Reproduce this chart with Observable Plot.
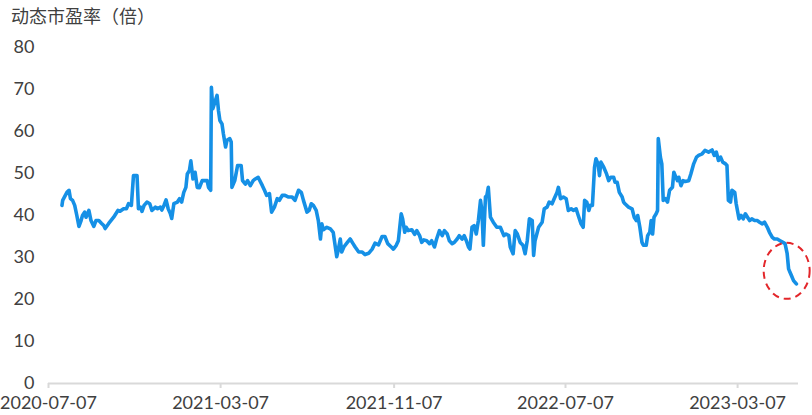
<!DOCTYPE html>
<html>
<head>
<meta charset="utf-8">
<script src="https://cdn.jsdelivr.net/npm/d3@7"></script>
<script src="https://cdn.jsdelivr.net/npm/@observablehq/plot@0.6"></script>
<style>
  html, body { margin: 0; padding: 0; background: #ffffff; }
  #wrap { width: 812px; height: 415px; position: relative; overflow: hidden; }
  #title { height: 30px; line-height: 30px; padding-left: 11px; font-family: "Noto Sans CJK SC", sans-serif; font-size: 18px; color: #404040; }
</style>
</head>
<body>
<div id="wrap">
  <div id="title">动态市盈率（倍）</div>
  <div id="chart"></div>
</div>
<script>
const titleText = "动态市盈率（倍）";
const xTickLabels = ["2020-07-07", "2021-03-07", "2021-11-07", "2022-07-07", "2023-03-07"];
const yTickValues = [0, 10, 20, 30, 40, 50, 60, 70, 80];
const xDomain = ["2020-07-07", "2023-06-01"];

const dates = [
  "2020-07-26","2020-07-27","2020-08-02","2020-08-05","2020-08-07","2020-08-10","2020-08-13","2020-08-16","2020-08-19","2020-08-22",
  "2020-08-24","2020-08-27","2020-08-29","2020-09-02","2020-09-05","2020-09-09","2020-09-12","2020-09-16","2020-09-20","2020-09-23",
  "2020-09-25","2020-09-30","2020-10-07","2020-10-13","2020-10-16","2020-10-21","2020-10-25","2020-10-28","2020-11-01","2020-11-04",
  "2020-11-09","2020-11-11","2020-11-14","2020-11-16","2020-11-19","2020-11-23","2020-11-27","2020-11-30","2020-12-05","2020-12-08",
  "2020-12-12","2020-12-14","2020-12-17","2020-12-20","2020-12-23","2020-12-26","2020-12-28","2020-12-31","2021-01-05","2021-01-08",
  "2021-01-11","2021-01-14","2021-01-17","2021-01-19","2021-01-22","2021-01-24","2021-01-27","2021-01-30","2021-02-02","2021-02-05",
  "2021-02-09","2021-02-16","2021-02-18","2021-02-21","2021-02-22","2021-02-24","2021-02-27","2021-03-02","2021-03-04","2021-03-06",
  "2021-03-09","2021-03-11","2021-03-14","2021-03-16","2021-03-20","2021-03-22","2021-03-23","2021-03-27","2021-03-31","2021-04-05",
  "2021-04-07","2021-04-11","2021-04-14","2021-04-18","2021-04-22","2021-04-25","2021-04-29","2021-05-05","2021-05-08","2021-05-11",
  "2021-05-15","2021-05-18","2021-05-22","2021-05-26","2021-05-29","2021-06-02","2021-06-06","2021-06-11","2021-06-16","2021-06-20",
  "2021-06-25","2021-06-29","2021-07-02","2021-07-07","2021-07-10","2021-07-13","2021-07-16","2021-07-20","2021-07-23","2021-07-26",
  "2021-07-28","2021-07-30","2021-08-04","2021-08-09","2021-08-13","2021-08-16","2021-08-18","2021-08-20","2021-08-23","2021-08-25",
  "2021-08-28","2021-09-02","2021-09-06","2021-09-10","2021-09-13","2021-09-18","2021-09-23","2021-09-27","2021-10-02","2021-10-07",
  "2021-10-11","2021-10-16","2021-10-21","2021-10-25","2021-10-29","2021-11-03","2021-11-06","2021-11-10","2021-11-13","2021-11-17",
  "2021-11-19","2021-11-22","2021-11-24","2021-11-27","2021-12-02","2021-12-06","2021-12-09","2021-12-13","2021-12-16","2021-12-19",
  "2021-12-23","2021-12-27","2021-12-30","2022-01-03","2022-01-06","2022-01-10","2022-01-14","2022-01-17","2022-01-21","2022-01-24",
  "2022-01-28","2022-01-31","2022-02-04","2022-02-07","2022-02-11","2022-02-14","2022-02-17","2022-02-20","2022-02-22","2022-02-25",
  "2022-02-28","2022-03-03","2022-03-06","2022-03-09","2022-03-11","2022-03-13","2022-03-16","2022-03-18","2022-03-20","2022-03-23",
  "2022-03-27","2022-04-01","2022-04-06","2022-04-11","2022-04-14","2022-04-18","2022-04-20","2022-04-24","2022-04-27","2022-04-30",
  "2022-05-04","2022-05-08","2022-05-11","2022-05-14","2022-05-17","2022-05-21","2022-05-23","2022-05-25","2022-05-30","2022-06-04",
  "2022-06-07","2022-06-11","2022-06-14","2022-06-18","2022-06-21","2022-06-25","2022-06-27","2022-06-30","2022-07-04","2022-07-08",
  "2022-07-11","2022-07-15","2022-07-18","2022-07-22","2022-07-25","2022-07-29","2022-08-01","2022-08-03","2022-08-06","2022-08-09",
  "2022-08-11","2022-08-14","2022-08-17","2022-08-19","2022-08-22","2022-08-24","2022-08-26","2022-08-30","2022-09-03","2022-09-06",
  "2022-09-09","2022-09-13","2022-09-15","2022-09-18","2022-09-21","2022-09-25","2022-09-27","2022-09-29","2022-10-04","2022-10-09",
  "2022-10-12","2022-10-15","2022-10-17","2022-10-20","2022-10-23","2022-10-25","2022-10-29","2022-10-31","2022-11-03","2022-11-05",
  "2022-11-07","2022-11-09","2022-11-12","2022-11-14","2022-11-15","2022-11-18","2022-11-20","2022-11-22","2022-11-25","2022-11-28",
  "2022-12-01","2022-12-05","2022-12-07","2022-12-09","2022-12-12","2022-12-14","2022-12-17","2022-12-20","2022-12-23","2022-12-28",
  "2022-12-31","2023-01-04","2023-01-08","2023-01-11","2023-01-16","2023-01-20","2023-01-25","2023-01-30","2023-02-02","2023-02-05",
  "2023-02-08","2023-02-11","2023-02-14","2023-02-18","2023-02-20","2023-02-22","2023-02-25","2023-02-27","2023-03-03","2023-03-05",
  "2023-03-09","2023-03-12","2023-03-15","2023-03-18","2023-03-21","2023-03-24","2023-03-27","2023-03-31","2023-04-04","2023-04-07",
  "2023-04-11","2023-04-14","2023-04-18","2023-04-21","2023-04-25","2023-04-28","2023-05-02","2023-05-06","2023-05-10","2023-05-13",
  "2023-05-16","2023-05-18","2023-05-20","2023-05-22","2023-05-25","2023-05-29"
];

const values = [
  42.4,43.6,45.5,46.0,44.0,43.6,42.4,40.0,37.4,38.8,
  40.0,40.8,39.6,41.2,38.8,37.4,38.8,38.8,38.1,37.6,
  36.9,38.1,39.6,41.2,41.0,41.6,41.6,42.8,42.4,49.5,
  49.5,41.6,42.0,41.0,42.4,43.2,42.8,41.2,42.0,41.6,
  42.0,41.3,42.4,43.7,41.6,40.5,39.3,42.8,43.2,44.0,
  43.2,45.5,46.7,49.9,50.7,53.0,48.7,50.3,46.7,46.6,
  48.3,48.3,46.7,46.0,70.5,65.4,67.0,68.6,65.0,62.6,
  61.8,59.4,56.3,57.9,58.3,57.5,46.7,48.3,51.9,51.9,
  48.3,47.5,48.3,47.1,48.3,48.7,49.1,47.1,46.0,44.8,
  45.2,40.8,42.0,44.0,43.6,44.8,44.8,44.4,44.4,43.6,
  46.0,45.5,43.6,40.8,41.2,42.8,42.4,41.2,38.8,34.4,
  38.0,36.6,37.2,36.8,36.0,32.5,30.2,31.7,34.4,31.3,
  32.5,33.6,34.4,33.3,32.5,31.3,31.3,30.7,31.0,32.0,
  33.4,33.0,35.0,35.0,33.3,32.5,32.0,32.9,34.0,40.4,
  39.2,36.0,37.2,36.4,36.6,35.5,36.4,35.2,33.6,34.2,
  34.0,33.3,34.0,32.5,34.4,36.4,35.2,36.4,35.6,34.0,
  33.3,33.6,34.4,35.2,34.4,35.2,34.0,32.5,32.0,37.2,
  37.6,35.6,38.8,43.6,41.2,32.9,44.4,44.8,46.7,39.6,
  38.4,37.2,37.2,35.2,35.6,35.2,32.5,30.9,36.4,35.6,
  33.6,32.9,30.9,34.0,39.2,38.8,30.5,34.0,37.2,38.4,
  41.6,42.0,43.2,42.8,44.0,45.5,46.7,44.0,44.4,44.0,
  41.2,41.6,41.2,41.6,40.0,38.0,37.2,43.6,43.2,41.2,
  42.4,42.4,51.5,53.5,52.3,49.5,52.7,51.5,49.9,48.3,
  49.1,49.1,47.9,47.9,45.5,44.4,43.2,42.8,42.0,41.6,
  39.6,38.8,40.0,37.2,33.6,32.9,32.9,35.2,36.0,38.8,
  35.6,39.6,40.4,41.2,58.3,53.9,52.3,43.6,44.0,43.2,
  46.0,46.7,50.3,49.5,48.3,49.1,47.1,48.3,48.1,48.3,
  49.9,52.3,53.9,54.3,54.7,55.5,55.1,55.6,54.3,55.1,
  53.1,53.9,52.7,52.3,51.9,43.6,43.2,46.0,45.5,42.8,
  39.2,40.0,39.2,40.4,39.6,38.8,39.2,38.8,38.8,38.4,
  38.0,38.4,37.2,36.0,34.8,34.4,34.4,34.0,33.6,33.3,
  30.9,27.3,26.5,25.7,24.5,23.7
];

// annotation: dashed ellipse around the latest drop
const markDate = "2023-05-16";
const markValue = 26.7;

const parse = d3.utcParse("%Y-%m-%d");
const data = dates.map((d, i) => ({date: parse(d), value: values[i]}));

const ellipseMark = (index, scales) => {
  const e = d3.create("svg:ellipse")
    .attr("cx", scales.x(parse(markDate)))
    .attr("cy", scales.y(markValue))
    .attr("rx", 23)
    .attr("ry", 28)
    .attr("fill", "none")
    .attr("stroke", "#e3262a")
    .attr("stroke-width", 2)
    .attr("stroke-dasharray", "7,5");
  return e.node();
};

const chart = Plot.plot({
  width: 812,
  height: 385,
  marginLeft: 48,
  marginRight: 14,
  marginTop: 17,
  marginBottom: 32,
  style: {fontFamily: "Lato, 'Noto Sans CJK SC', sans-serif", fontSize: "18px", color: "#404040", background: "#ffffff", overflow: "visible"},
  x: {
    type: "utc",
    domain: xDomain.map(parse),
    ticks: xTickLabels.map(parse),
    tickFormat: d3.utcFormat("%Y-%m-%d"),
    tickSize: 5,
    tickPadding: 8,
    label: null
  },
  y: {
    domain: [0, 80],
    ticks: yTickValues,
    tickSize: 0,
    tickPadding: 14,
    label: null
  },
  marks: [
    Plot.ruleY([0], {stroke: "#d9d9d9", strokeWidth: 2}),
    Plot.line(data, {x: "date", y: "value", stroke: "#1590e6", strokeWidth: 3.6, strokeLinejoin: "round"}),
    ellipseMark
  ]
});
d3.select(chart).selectAll("[aria-label='x-axis tick'] path, [aria-label='x-axis'] line, [aria-label='x-axis'] path").attr("stroke", "#d9d9d9").attr("stroke-width", 2);
document.getElementById("chart").appendChild(chart);
</script>
</body>
</html>
